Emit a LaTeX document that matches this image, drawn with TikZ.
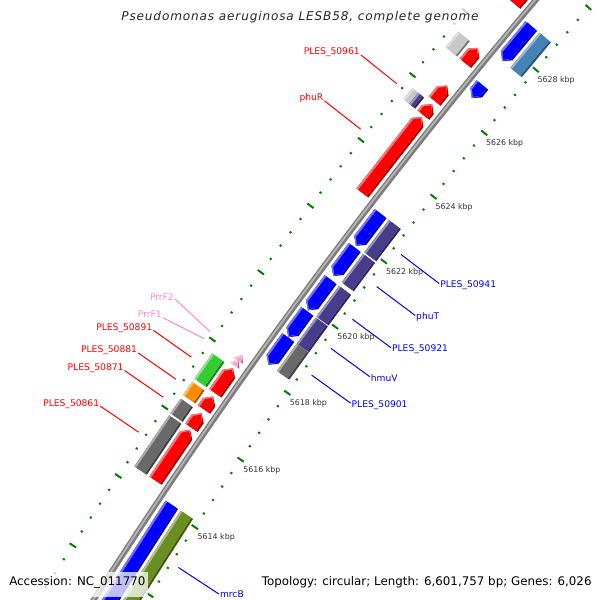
\documentclass[tikz,border=0pt]{standalone}
\usepackage{xfp}
\usepackage{fontspec}
\setmainfont{DejaVu Sans}
\newfontfamily\titlefont[LetterSpace=7]{DejaVu Sans Oblique}
\definecolor{cR}{RGB}{255,0,0}
\definecolor{cB}{RGB}{0,0,255}
\definecolor{cGray}{RGB}{105,105,105}
\definecolor{cLGray}{RGB}{200,200,200}
\definecolor{cOrange}{RGB}{255,140,0}
\definecolor{cLime}{RGB}{50,205,50}
\definecolor{cSteel}{RGB}{70,130,180}
\definecolor{cSlate}{RGB}{72,61,139}
\definecolor{cOlive}{RGB}{107,142,35}
\definecolor{cPink}{RGB}{255,160,205}
\definecolor{cTick}{RGB}{0,128,0}
\definecolor{cPinkTxt}{RGB}{255,140,200}
\definecolor{cBack}{RGB}{125,125,125}
\definecolor{cBackHi}{RGB}{180,180,180}
\definecolor{cTickTxt}{RGB}{50,50,50}
% polar mapping: k = position in kbp, d = radial offset from backbone (px)
\newcommand\PX[2]{\fpeval{round(4714+(5477+(#2))*cosd(145.44-0.43*((#1)-5616)),3)}}
\newcommand\PY[2]{\fpeval{round(-2941+(5477+(#2))*sind(145.44-0.43*((#1)-5616)),3)}}
\newcommand\PP[2]{(\PX{#1}{#2},\PY{#1}{#2})}
\newcommand\gcoord[3]{\edef\tmp{\noexpand\coordinate (#1) at \PP{#2}{#3};}\tmp}
\def\HL{0.17}
\newcommand\gshape[8]{%
  \if#7f%
    \edef\kh{\fpeval{max(#1,(#2)-\HL)}}%
    \edef\tmp{\noexpand\fill[#8] \PP{#1}{#3} -- \PP{\kh}{#3} -- \PP{#6}{#5} -- \PP{\kh}{#4} -- \PP{#1}{#4} -- cycle;}%
  \else
    \if#7r%
      \edef\kh{\fpeval{min(#2,(#1)+\HL)}}%
      \edef\tmp{\noexpand\fill[#8] \PP{#2}{#3} -- \PP{\kh}{#3} -- \PP{#6}{#5} -- \PP{\kh}{#4} -- \PP{#2}{#4} -- cycle;}%
    \else
      \edef\tmp{\noexpand\fill[#8] \PP{#1}{#3} -- \PP{#2}{#3} -- \PP{#2}{#4} -- \PP{#1}{#4} -- cycle;}%
    \fi
  \fi
  \tmp}
\newcommand\gene[6]{%
  \if#5f\edef\tipk{#2}\edef\tipm{\fpeval{(#2)-0.04}}\else\edef\tipk{#1}\edef\tipm{\fpeval{(#1)+0.04}}\fi
  \edef\dm{\fpeval{((#3)+(#4))/2}}%
  \gshape{#1}{#2}{#3}{#4}{\dm}{\tipk}{#5}{#6!62!black}%
  \gshape{#1}{#2}{(#3)+2.2}{#4}{\dm}{\tipk}{#5}{#6!55!white}%
  \gshape{#1}{#2}{(#3)+2.2}{(#4)-2.2}{\dm}{\tipm}{#5}{#6}%
}
\tikzset{
  tickmark/.style={draw=cTick, line width=1.42pt},
  lbl/.style={inner sep=0.6pt, font=\fontsize{6.5pt}{7.6pt}\selectfont},
  rlbl/.style={lbl, anchor=west, yshift=-1.3pt},
  ticklbl/.style={inner sep=0pt, text=cTickTxt, font=\fontsize{5.6pt}{6.6pt}\selectfont},
  lead/.style={line width=0.71pt},
  foot/.style={inner sep=0pt, text=black, font=\fontsize{8.44pt}{10pt}\selectfont},
  veil/.style={fill=white, opacity=0.75}
}
\begin{document}
\begin{tikzpicture}[x=0.025cm,y=0.025cm]
\useasboundingbox (0,0) rectangle (600,600);
\begin{scope}
\clip (0,0) rectangle (600,600);
% ruler ticks
\foreach \i in {0,...,55}{%
  \edef\kk{\fpeval{5610+0.4*\i}}%
  \ifnum\fpeval{\i-5*trunc(\i/5)}=0
    \edef\tmp{\noexpand\draw[tickmark] \PP{\kk}{-48.8} -- \PP{\kk}{-41.2}; \noexpand\draw[tickmark] \PP{\kk}{43.2} -- \PP{\kk}{50.8};}\tmp
  \else
    \edef\tmp{\noexpand\draw[tickmark] \PP{\kk}{-46.1} -- \PP{\kk}{-43.9}; \noexpand\draw[tickmark] \PP{\kk}{45.9} -- \PP{\kk}{48.1};}\tmp
  \fi
}
% tick labels
\foreach \k in {5614,5616,...,5628}{%
  \gcoord{tl}{\k-0.18}{-53}%
  \node[ticklbl, anchor=west] (tl\k) at (tl) {\k\ kbp};
}
% backbone
\gcoord{bb0}{5609}{0}
\draw[cBack, line width=4.1pt] (bb0) arc[start angle=148.45, end angle=138.56, radius=5477];
\gcoord{bb1}{5609}{0.6}
\draw[cBackHi, line width=1.3pt] (bb1) arc[start angle=148.45, end angle=138.56, radius=5477.6];
% forward strand, slot 1
\gene{5614.41}{5615.90}{6}{21}{f}{cR}
\gene{5615.96}{5616.39}{6}{21}{f}{cR}
\gene{5616.50}{5616.88}{6}{21}{f}{cR}
\gene{5616.98}{5617.72}{6}{21}{f}{cR}
\gene{5617.80}{5617.96}{8}{19}{f}{cPink}
\gene{5617.95}{5618.11}{8}{19}{f}{cPink}
\gene{5623.01}{5625.35}{6}{21}{f}{cR}
\gene{5625.41}{5625.75}{6}{21}{f}{cR}
\gene{5625.85}{5626.33}{6}{21}{f}{cR}
\gene{5627.03}{5627.51}{6}{21}{f}{cR}
\gene{5628.90}{5632.00}{6}{21}{f}{cR}
% forward strand, slot 2
\gene{5614.41}{5615.90}{24}{39}{n}{cGray}
\gene{5615.96}{5616.39}{24}{39}{n}{cGray}
\gene{5616.50}{5616.88}{24}{39}{n}{cOrange}
\gene{5616.98}{5617.72}{24}{39}{n}{cLime}
\gene{5625.41}{5625.75}{24}{39}{n}{cLGray}
\gene{5625.41}{5625.75}{24}{31.5}{n}{cSlate}
\gene{5627.03}{5627.51}{24}{39}{n}{cLGray}
% reverse strand, slot 1
\gene{5627.64}{5628.75}{-21}{-6}{r}{cB}
\gene{5626.47}{5626.88}{-21}{-6}{r}{cB}
\gene{5621.89}{5622.88}{-21}{-6}{r}{cB}
\gene{5620.97}{5621.84}{-21}{-6}{r}{cB}
\gene{5619.93}{5620.86}{-21}{-6}{r}{cB}
\gene{5619.12}{5619.90}{-21}{-6}{r}{cB}
\gene{5618.29}{5619.11}{-21}{-6}{r}{cB}
\gene{5609.00}{5614.14}{-21}{-6}{r}{cB}
% reverse strand, slot 2
\gene{5627.64}{5628.75}{-39}{-24}{n}{cSteel}
\gene{5621.89}{5622.88}{-39}{-24}{n}{cSlate}
\gene{5620.97}{5621.84}{-39}{-24}{n}{cSlate}
\gene{5619.93}{5620.86}{-39}{-24}{n}{cSlate}
\gene{5619.12}{5619.90}{-39}{-24}{n}{cSlate}
\gene{5618.29}{5619.11}{-39}{-24}{n}{cGray}
\gene{5609.00}{5614.14}{-39}{-24}{n}{cOlive}
% outer labels
\gcoord{s1}{5625.60}{54}\gcoord{e1}{5625.60}{100}
\draw[lead, cR] (s1) -- (e1); \node[lbl, text=cR, anchor=base east] (L1) at (e1) {PLES\_50961};
\gcoord{s2}{5624.20}{54}\gcoord{e2}{5624.20}{100}
\draw[lead, cR] (s2) -- (e2); \node[lbl, text=cR, anchor=base east] (L2) at (e2) {phuR};
\gcoord{s3}{5618.12}{53.5}\gcoord{e3}{5618.27}{101}
\draw[lead, cPinkTxt] (s3) -- (e3); \node[lbl, text=cPinkTxt, anchor=base east, yshift=-1pt] (L3) at (e3) {PrrF2};
\gcoord{s4}{5617.90}{54}\gcoord{e4}{5617.74}{100}
\draw[lead, cPinkTxt] (s4) -- (e4); \node[lbl, text=cPinkTxt, anchor=base east] (L4) at (e4) {PrrF1};
\gcoord{s5}{5617.36}{54}\gcoord{e5}{5617.36}{100.5}
\draw[lead, cR] (s5) -- (e5); \node[lbl, text=cR, anchor=base east] (L5) at (e5) {PLES\_50891};
\gcoord{s6}{5616.71}{54}\gcoord{e6}{5616.71}{100}
\draw[lead, cR] (s6) -- (e6); \node[lbl, text=cR, anchor=base east] (L6) at (e6) {PLES\_50881};
\gcoord{s7}{5616.18}{54}\gcoord{e7}{5616.18}{101}
\draw[lead, cR] (s7) -- (e7); \node[lbl, text=cR, anchor=base east] (L7) at (e7) {PLES\_50871};
\gcoord{s8}{5615.15}{54.5}\gcoord{e8}{5615.15}{101}
\draw[lead, cR] (s8) -- (e8); \node[lbl, text=cR, anchor=base east] (L8) at (e8) {PLES\_50861};
% inner labels
\gcoord{s9}{5622.39}{-54.5}\gcoord{e9}{5622.39}{-102.5}
\draw[lead, cB] (s9) -- (e9); \node[rlbl, text=cB] (L9) at (e9) {PLES\_50941};
\gcoord{s10}{5621.40}{-54.5}\gcoord{e10}{5621.40}{-102.5}
\draw[lead, cB] (s10) -- (e10); \node[rlbl, text=cB] (L10) at (e10) {phuT};
\gcoord{s11}{5620.40}{-54.5}\gcoord{e11}{5620.40}{-102.5}
\draw[lead, cB] (s11) -- (e11); \node[rlbl, text=cB] (L11) at (e11) {PLES\_50921};
\gcoord{s12}{5619.51}{-54.5}\gcoord{e12}{5619.51}{-102.5}
\draw[lead, cB] (s12) -- (e12); \node[rlbl, text=cB] (L12) at (e12) {hmuV};
\gcoord{s13}{5618.70}{-54.5}\gcoord{e13}{5618.70}{-102.5}
\draw[lead, cB] (s13) -- (e13); \node[rlbl, text=cB] (L13) at (e13) {PLES\_50901};
\gcoord{s14}{5612.95}{-53.5}\gcoord{e14}{5612.95}{-102}
\draw[lead, cB] (s14) -- (e14); \node[lbl, text=cB, anchor=west] (L14) at (e14) {mrcB};
% title and footer
\fill[veil] (114,571) rectangle (486,595);
\node[inner sep=0pt, text=black!85, font=\titlefont\fontsize{8.6pt}{10pt}\selectfont] (title) at (300,582.5) {Pseudomonas aeruginosa LESB58, complete genome};
\fill[veil] (4,3) rectangle (148,28);
\node[foot, anchor=base west] (acc) at (9,14.7) {Accession: NC\_011770};
\node[foot, anchor=base west] (topo) at (261.5,14.7) {Topology: circular; Length: 6,601,757 bp; Genes: 6,026};
\end{scope}
\end{tikzpicture}
\end{document}
